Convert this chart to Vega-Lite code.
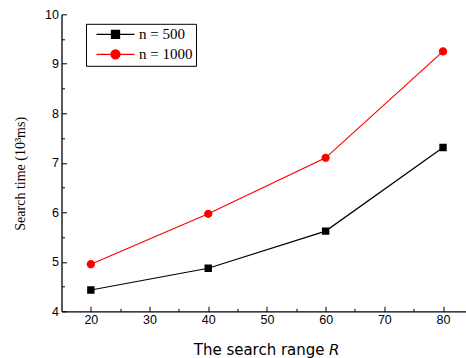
{
  "$schema": "https://vega.github.io/schema/vega-lite/v6.json",
  "width": 405,
  "height": 297,
  "autosize": {"type": "none"},
  "padding": {"left": 61.5, "top": 14.3, "right": 0, "bottom": 47},
  "background": "white",
  "config": {
    "view": {"stroke": null},
    "axis": {
      "grid": false,
      "domainColor": "black",
      "domainWidth": 1.3,
      "tickColor": "black",
      "tickWidth": 1,
      "labelColor": "black",
      "titleColor": "black",
      "labelFont": "Liberation Sans",
      "labelFontSize": 12.5,
      "titleFontWeight": "normal"
    },
    "legend": {
      "orient": "none",
      "legendX": 24.5,
      "legendY": 9.5,
      "strokeColor": "black",
      "padding": 3,
      "rowPadding": 4,
      "symbolOffset": 19,
      "labelOffset": 16,
      "symbolSize": 100,
      "symbolStrokeWidth": 1.3,
      "labelFont": "Liberation Serif",
      "labelFontSize": 15,
      "labelColor": "black"
    }
  },
  "data": {
    "values": [
      {"R": 20, "time": 4.43, "series": "n = 500"},
      {"R": 40, "time": 4.87, "series": "n = 500"},
      {"R": 60, "time": 5.62, "series": "n = 500"},
      {"R": 80, "time": 7.31, "series": "n = 500"},
      {"R": 20, "time": 4.95, "series": "n = 1000"},
      {"R": 40, "time": 5.97, "series": "n = 1000"},
      {"R": 60, "time": 7.10, "series": "n = 1000"},
      {"R": 80, "time": 9.25, "series": "n = 1000"}
    ]
  },
  "encoding": {
    "x": {
      "field": "R",
      "type": "quantitative",
      "scale": {"domain": [15, 84], "nice": false, "zero": false},
      "axis": {
        "title": "The search range 𝘙",
        "titleFont": "DejaVu Sans",
        "titleFontSize": 15,
        "titleX": 204.5,
        "titleY": 43,
        "titleAlign": "center",
        "titleBaseline": "alphabetic",
        "values": [20, 25, 30, 35, 40, 45, 50, 55, 60, 65, 70, 75, 80],
        "labelExpr": "datum.value % 10 === 0 ? format(datum.value, 'd') : ''",
        "tickSize": {"condition": {"test": "datum.value % 10 !== 0", "value": -3}, "value": -5},
        "labelPadding": 7
      }
    },
    "y": {
      "field": "time",
      "type": "quantitative",
      "scale": {"domain": [4, 10], "nice": false, "zero": false},
      "axis": {
        "title": "Search time (10³ms)",
        "titleFont": "Liberation Serif",
        "titleFontSize": 14,
        "titleX": -41,
        "titleY": 159,
        "titleAlign": "center",
        "titleBaseline": "middle",
        "values": [4, 4.5, 5, 5.5, 6, 6.5, 7, 7.5, 8, 8.5, 9, 9.5, 10],
        "labelExpr": "datum.value % 1 === 0 ? format(datum.value, 'd') : ''",
        "tickSize": {"condition": {"test": "datum.value % 1 !== 0", "value": -3}, "value": -5},
        "labelPadding": 8
      }
    },
    "color": {
      "field": "series",
      "type": "nominal",
      "scale": {"domain": ["n = 500", "n = 1000"], "range": ["#000000", "#ff0000"]},
      "legend": {
        "title": null,
        "encode": {"symbols": {"update": {"stroke": {"scale": "color", "field": "value"}, "strokeWidth": {"value": 1.3}}}}
      }
    }
  },
  "layer": [
    {"mark": {"type": "line", "strokeWidth": 1.2}},
    {
      "mark": {"type": "point", "filled": true, "size": 85, "opacity": 1, "strokeWidth": 0},
      "encoding": {
        "shape": {
          "field": "series",
          "type": "nominal",
          "scale": {
            "domain": ["n = 500", "n = 1000"],
            "range": [
              "M-3.8,0H3.8M-0.8,-0.8H0.8V0.8H-0.8Z",
              "M-3.8,0H3.8M0.9,0A0.9,0.9,0,1,1,-0.9,0A0.9,0.9,0,1,1,0.9,0Z"
            ]
          },
          "legend": {
            "title": null,
            "encode": {"symbols": {"update": {"stroke": {"scale": "color", "field": "value"}, "strokeWidth": {"value": 1.3}}}}
          }
        }
      }
    }
  ]
}
